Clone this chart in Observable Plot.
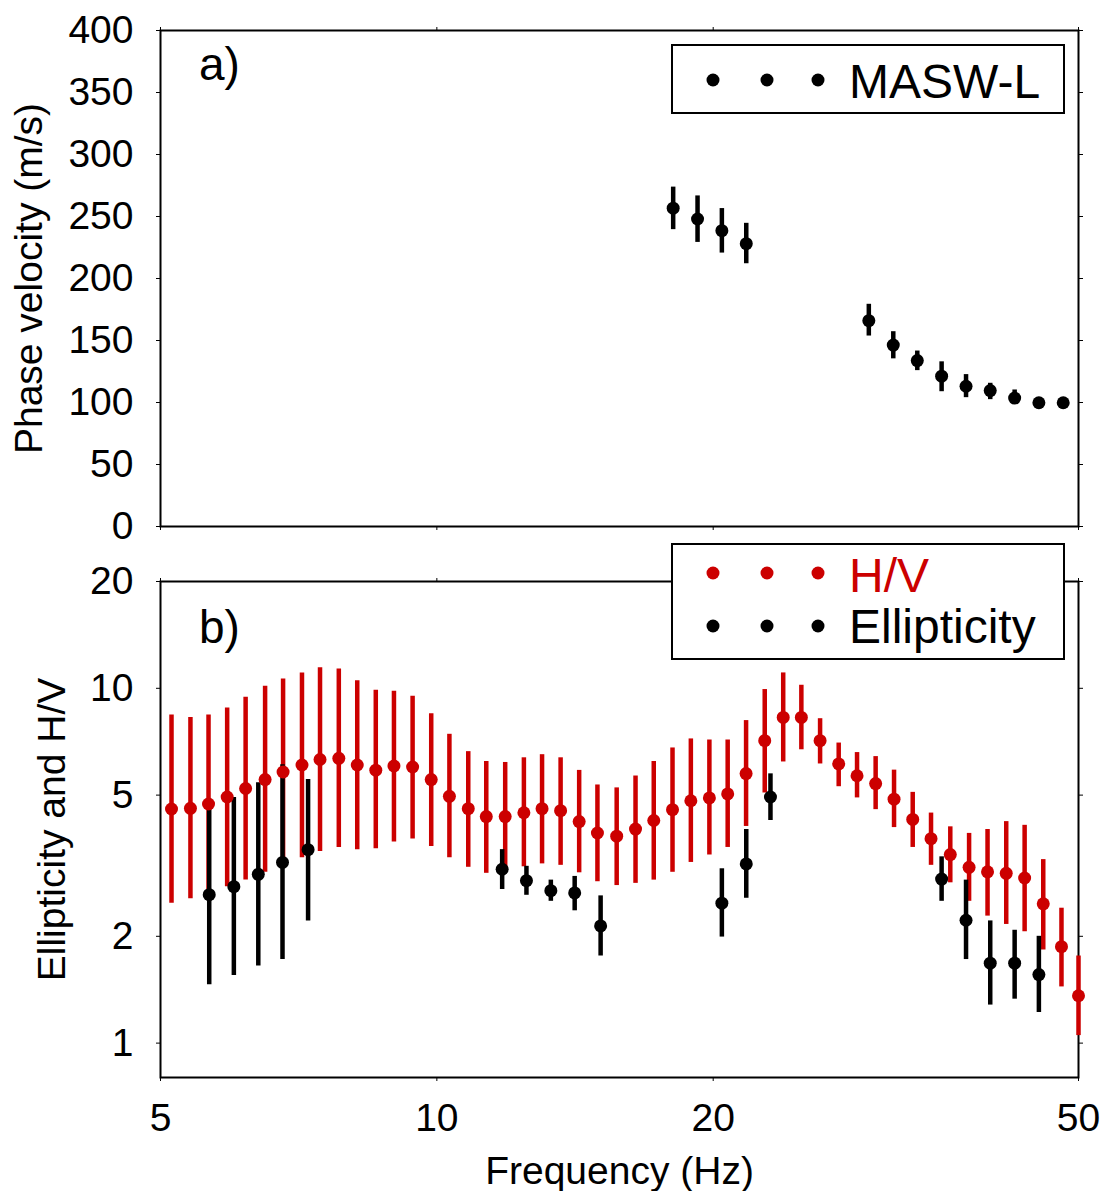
<!DOCTYPE html>
<html>
<head>
<meta charset="utf-8">
<script src="https://cdn.jsdelivr.net/npm/d3@7"></script>
<script src="https://cdn.jsdelivr.net/npm/@observablehq/plot@0.6"></script>
<style>
  body { margin: 0; background: #fff; }
  #chart { position: relative; width: 1102px; height: 1191px; background: #fff;
           font-family: "Liberation Sans", Arial, Helvetica, sans-serif; }
  #chart > svg { position: absolute; left: 0; display: block; }
</style>
</head>
<body>
<div id="chart"></div>
<script>
// ---- Panel a: MASW-L dispersion curve (phase velocity, m/s) ----
const maswFreq = [18.09, 19.23, 20.44, 21.73, 29.55, 31.42, 33.37, 35.47, 37.71, 40.07, 42.60, 45.27, 48.12];
const maswVel  = [256.7, 248.0, 238.6, 228.1, 166.0, 146.3, 133.8, 121.2, 113.1, 109.6, 103.6, 99.8, 99.8];
const maswLo   = [239.4, 229.1, 220.5, 211.9, 153.6, 135.2, 125.7, 108.7, 103.9, 102.3, 98.8, 95.8, 95.8];
const maswHi   = [273.7, 266.6, 256.4, 244.5, 179.2, 157.1, 141.5, 132.8, 122.5, 115.5, 110.1, 103.8, 103.8];

// ---- Panel b: H/V spectral ratio (mean and spread) ----
const hvFreq = [5.14, 5.39, 5.64, 5.91, 6.19, 6.50, 6.80, 7.13, 7.46, 7.82,
                8.19, 8.58, 8.98, 9.41, 9.86, 10.32, 10.82, 11.32, 11.87, 12.44,
                13.02, 13.64, 14.29, 14.96, 15.70, 16.46, 17.23, 18.06, 18.91, 19.81,
                20.74, 21.72, 22.76, 23.84, 24.95, 26.15, 27.40, 28.69, 30.06, 31.48,
                32.99, 34.54, 36.25, 38.00, 39.80, 41.71, 43.68, 45.77, 47.91, 50.00];
const hvMean = [4.57, 4.59, 4.72, 4.94, 5.22, 5.53, 5.81, 6.08, 6.30, 6.35,
                6.08, 5.88, 6.04, 6.00, 5.53, 4.96, 4.58, 4.35, 4.35, 4.46,
                4.58, 4.52, 4.21, 3.91, 3.83, 4.01, 4.24, 4.55, 4.82, 4.91,
                5.04, 5.75, 7.12, 8.28, 8.28, 7.12, 6.12, 5.67, 5.39, 4.87,
                4.27, 3.77, 3.40, 3.13, 3.04, 3.01, 2.92, 2.47, 1.87, 1.36];
const hvLo   = [2.48, 2.55, 2.65, 2.76, 2.88, 3.03, 3.18, 3.33, 3.47, 3.56,
                3.51, 3.53, 3.69, 3.76, 3.58, 3.33, 3.13, 3.01, 3.06, 3.14,
                3.20, 3.17, 3.02, 2.85, 2.78, 2.82, 2.88, 3.03, 3.23, 3.39,
                3.56, 4.08, 5.07, 6.20, 6.71, 6.12, 5.28, 4.91, 4.55, 4.05,
                3.56, 3.17, 2.83, 2.51, 2.28, 2.16, 2.06, 1.83, 1.44, 1.05];
const hvHi   = [8.41, 8.27, 8.41, 8.80, 9.43, 10.13, 10.63, 11.05, 11.42, 11.34,
                10.51, 9.87, 9.81, 9.49, 8.48, 7.42, 6.63, 6.22, 6.18, 6.37,
                6.50, 6.37, 5.87, 5.34, 5.24, 5.66, 6.22, 6.79, 7.20, 7.15,
                7.15, 8.11, 9.92, 11.05, 10.20, 8.21, 7.01, 6.59, 6.42, 5.88,
                5.09, 4.45, 4.07, 3.90, 4.00, 4.21, 4.11, 3.29, 2.40, 1.76];

// ---- Panel b: Rayleigh-wave ellipticity ----
const ellFreq = [5.65, 6.01, 6.39, 6.79, 7.24, 11.78, 12.52, 13.31, 14.13, 15.08,
                 20.44, 21.73, 23.09, 35.47, 37.71, 40.07, 42.60, 45.27];
const ellMean = [2.62, 2.76, 2.99, 3.23, 3.51, 3.09, 2.87, 2.69, 2.65, 2.14,
                 2.48, 3.20, 4.94, 2.90, 2.22, 1.68, 1.68, 1.56];
const ellLo   = [1.46, 1.55, 1.65, 1.72, 2.21, 2.71, 2.61, 2.51, 2.36, 1.76,
                 1.99, 2.56, 4.24, 2.51, 1.72, 1.28, 1.33, 1.22];
const ellHi   = [4.64, 4.92, 5.42, 6.09, 5.53, 3.51, 3.15, 2.88, 2.95, 2.60,
                 3.10, 4.00, 5.74, 3.35, 2.88, 2.21, 2.08, 2.00];

// Tick values
const freqTicks = [5, 10, 20, 50];
const velTicks = [0, 50, 100, 150, 200, 250, 300, 350, 400];
const ratioTicks = [1, 2, 5, 10, 20];

const RED = "#cc0000";
const FONT = '"Liberation Sans", Arial, Helvetica, sans-serif';

const rows = (f, m, lo, hi) => f.map((x, i) => ({f: x, m: m[i], lo: lo[i], hi: hi[i]}));
const masw = rows(maswFreq, maswVel, maswLo, maswHi);
const hv = rows(hvFreq, hvMean, hvLo, hvHi);
const ell = rows(ellFreq, ellMean, ellLo, ellHi);

const W = 1102, ML = 160, MR = 24;
const xScale = {type: "log", domain: [5, 50]};
const blankTicks = () => "";

// Panel a
const plotA = Plot.plot({
  width: W, height: 560,
  marginLeft: ML, marginRight: MR, marginTop: 30, marginBottom: 34,
  style: {fontFamily: FONT, color: "black", background: "transparent", overflow: "visible"},
  x: xScale,
  y: {domain: [0, 400]},
  marks: [
    Plot.axisY({anchor: "left", ticks: velTicks, tickSize: 4, tickPadding: 23, fontSize: 39,
                label: "Phase velocity (m/s)", labelAnchor: "center", labelOffset: 146, labelArrow: false}),
    Plot.axisY({anchor: "right", ticks: velTicks, tickSize: 4, tickFormat: blankTicks, label: null}),
    Plot.axisX({anchor: "bottom", ticks: freqTicks, tickSize: 4, tickFormat: blankTicks, label: null}),
    Plot.axisX({anchor: "top", ticks: freqTicks, tickSize: 4, tickFormat: blankTicks, label: null}),
    Plot.frame({stroke: "black", strokeWidth: 2}),
    Plot.ruleX(masw, {x: "f", y1: "lo", y2: "hi", stroke: "black", strokeWidth: 4.5}),
    Plot.dot(masw, {x: "f", y: "m", r: 6.5, fill: "black", stroke: "none"})
  ]
});
plotA.style.top = "0px";

// Panel b: bars first, then dots, so every dot sits on top of the spreads
const plotB = Plot.plot({
  width: W, height: 631,
  marginLeft: ML, marginRight: MR, marginTop: 21, marginBottom: 114,
  style: {fontFamily: FONT, color: "black", background: "transparent", overflow: "visible"},
  x: xScale,
  y: {type: "log", domain: [0.8, 20]},
  marks: [
    Plot.axisY({anchor: "left", ticks: ratioTicks, tickFormat: d => String(d), tickSize: 4, tickPadding: 23, fontSize: 39,
                label: "Ellipticity and H/V", labelAnchor: "center", labelOffset: 123, labelArrow: false}),
    Plot.axisY({anchor: "right", ticks: ratioTicks, tickSize: 4, tickFormat: blankTicks, label: null}),
    Plot.axisX({anchor: "bottom", ticks: freqTicks, tickFormat: d => String(d), tickSize: 4, tickPadding: 22, fontSize: 39,
                label: "Frequency (Hz)", labelAnchor: "center", labelOffset: 106, labelArrow: false}),
    Plot.axisX({anchor: "top", ticks: freqTicks, tickSize: 4, tickFormat: blankTicks, label: null}),
    Plot.frame({stroke: "black", strokeWidth: 2}),
    Plot.ruleX(hv, {x: "f", y1: "lo", y2: "hi", stroke: RED, strokeWidth: 4.5}),
    Plot.ruleX(ell, {x: "f", y1: "lo", y2: "hi", stroke: "black", strokeWidth: 4.5}),
    Plot.dot(hv, {x: "f", y: "m", r: 6.5, fill: RED, stroke: "none"}),
    Plot.dot(ell, {x: "f", y: "m", r: 6.5, fill: "black", stroke: "none"})
  ]
});
plotB.style.top = "560px";

const chart = document.getElementById("chart");
chart.appendChild(plotA);
chart.appendChild(plotB);

// Panel letters and legends drawn in an overlay layer
const overlay = d3.create("svg")
  .attr("width", W).attr("height", 1191)
  .style("top", "0px")
  .style("pointer-events", "none")
  .attr("font-family", FONT);

overlay.append("text").attr("x", 199).attr("y", 80).attr("font-size", 46).text("a)");
overlay.append("text").attr("x", 199).attr("y", 643).attr("font-size", 46).text("b)");

function legend(x, y, w, h, entries) {
  const g = overlay.append("g");
  g.append("rect").attr("x", x).attr("y", y).attr("width", w).attr("height", h)
    .attr("fill", "white").attr("stroke", "black").attr("stroke-width", 2);
  for (const e of entries) {
    for (const dx of [41, 95, 146]) {
      g.append("circle").attr("cx", x + dx).attr("cy", e.cy).attr("r", 6.5).attr("fill", e.color);
    }
    g.append("text").attr("x", x + 177).attr("y", e.baseline).attr("font-size", 48)
      .attr("fill", e.color).text(e.label);
  }
}
legend(672, 45, 392, 68, [{label: "MASW-L", color: "black", cy: 80, baseline: 98}]);
legend(672, 544, 392, 115, [
  {label: "H/V", color: RED, cy: 573, baseline: 592},
  {label: "Ellipticity", color: "black", cy: 626, baseline: 643}
]);

chart.appendChild(overlay.node());
</script>
</body>
</html>
